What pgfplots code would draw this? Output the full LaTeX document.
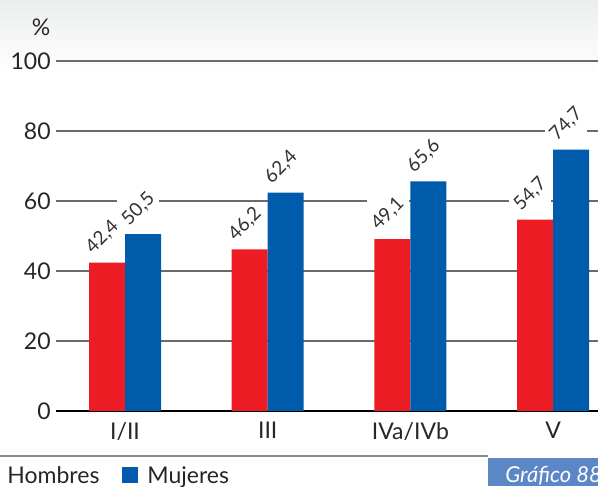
\documentclass[border=0pt]{standalone}
\usepackage{fontspec}
\setmainfont{Lato}
\usepackage{graphicx}
\usepackage{pgfplots}
\pgfplotsset{compat=1.18}
\definecolor{rojo}{HTML}{ED1C24}
\definecolor{azul}{HTML}{005BAA}
\definecolor{rejilla}{HTML}{6A6A6A}
\definecolor{caja}{HTML}{5B87C6}
\definecolor{fondo}{HTML}{ECEEEE}

\begin{document}
\begin{tikzpicture}
% lienzo de 598x486 px a 0.5pt por px
\path[use as bounding box, clip] (0,0) rectangle (299pt,243pt);
\shade[top color=fondo, bottom color=white] (0,205pt) rectangle (299pt,243pt);

\begin{axis}[
    at={(28pt,37.5pt)}, anchor=south west,
    scale only axis, width=271pt, height=175pt,
    xmin=-0.484, xmax=3.315, ymin=0, ymax=100,
    ybar=0pt, bar width=18pt,
    xtick={0,1,2,3}, xticklabels={I/II,III,IVa/IVb,V},
    ytick={20,40,60,80,100},
    extra y ticks={0},
    extra y tick style={grid style={black, line width=1.3pt}},
    ymajorgrids, grid style={rejilla, line width=0.8pt},
    axis line style={draw=none}, major tick length=0pt,
    tick label style={font=\fontsize{11.5}{13}\selectfont, text=black!85},
    yticklabel style={inner sep=0pt, xshift=-2.5pt},
    xticklabel style={yshift=-2pt},
    /pgf/number format/assume math mode=true,
    nodes near coords={\rotatebox{45}{\pgfmathprintnumber[use comma,fixed,fixed zerofill,precision=1]{\pgfplotspointmeta}}},
    every node near coord/.append style={anchor=south west, xshift=-13pt, yshift=2pt,
        fill=white, inner sep=1pt, text=black!80,
        font=\fontsize{9.5}{11}\selectfont},
]
\addplot[fill=rojo, draw=none] coordinates {(0,42.4) (1,46.2) (2,49.1) (3,54.7)};
\addplot[fill=azul, draw=none] coordinates {(0,50.5) (1,62.4) (2,65.6) (3,74.7)};
\end{axis}

\node[font=\fontsize{11.5}{13}\selectfont, text=black!85] at (20.5pt,229.5pt) {\%};

% pie: leyenda y recuadro
\draw[black!45, line width=0.9pt] (0,15pt) -- (244pt,15pt);
\node[anchor=base west, inner sep=0pt, font=\fontsize{11.5}{13}\selectfont, text=black!85] at (3.5pt,1.5pt) {Hombres};
\fill[azul] (61pt,1.5pt) rectangle (69pt,9.5pt);
\node[anchor=base west, inner sep=0pt, font=\fontsize{11.5}{13}\selectfont, text=black!85] at (73.5pt,1.5pt) {Mujeres};
\fill[caja] (244pt,0) rectangle (299pt,14pt);
\node[anchor=base west, inner sep=0pt, font=\fontsize{11}{13}\selectfont\itshape, text=white] at (252.5pt,1.8pt) {Gráfico 88};
\end{tikzpicture}
\end{document}
